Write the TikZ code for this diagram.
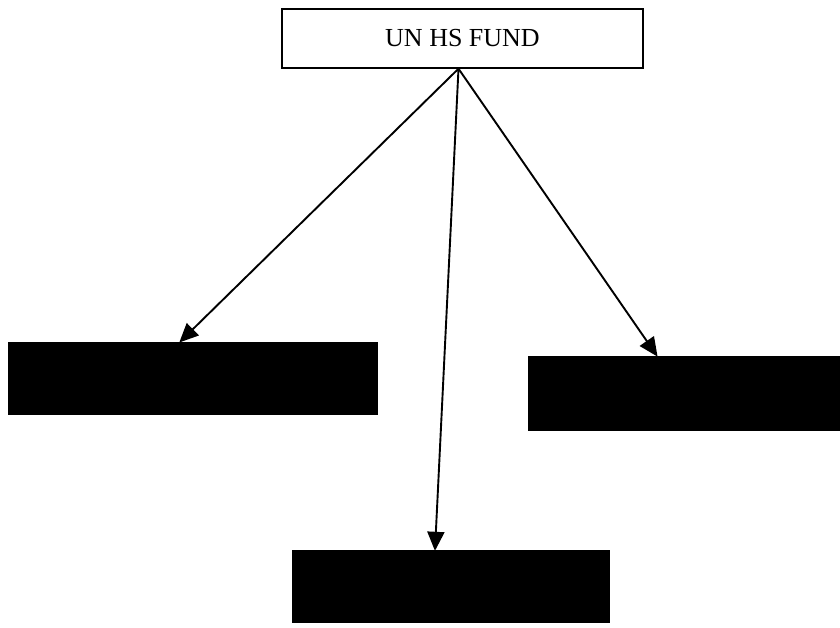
\documentclass[tikz,border=0pt]{standalone}
\usepackage{fontspec}
\setmainfont{Liberation Serif}
\usetikzlibrary{arrows.meta}
\begin{document}
\begin{tikzpicture}[x=1pt,y=-1pt,
  topbox/.style={draw=black, line width=1.4pt, fill=white, minimum width=361pt, minimum height=59pt, inner sep=0pt, font=\fontsize{26}{30}\selectfont},
  blackbox/.style={draw=black, fill=black, inner sep=0pt},
  link/.style={line width=1.9pt, -{Triangle[length=19pt,width=17pt]}, shorten >=-1pt}]
\useasboundingbox (0,0) rectangle (840,627);
\node[topbox] (top) at (462.5,38.5) {UN HS FUND};
\node[blackbox, minimum width=369pt, minimum height=72pt] (lb) at (192.5,378) {};
\node[blackbox, minimum width=312pt, minimum height=74pt] (rb) at (684,393) {};
\node[blackbox, minimum width=317pt, minimum height=72pt] (bb) at (450.5,586) {};
\coordinate (src) at ([xshift=-4pt]top.south);
\draw[link] (src) -- ([xshift=-12.5pt]lb.north);
\draw[link] (src) -- ([xshift=-27pt]rb.north);
\draw[link] (src) -- ([xshift=-15.5pt]bb.north);
\end{tikzpicture}
\end{document}
